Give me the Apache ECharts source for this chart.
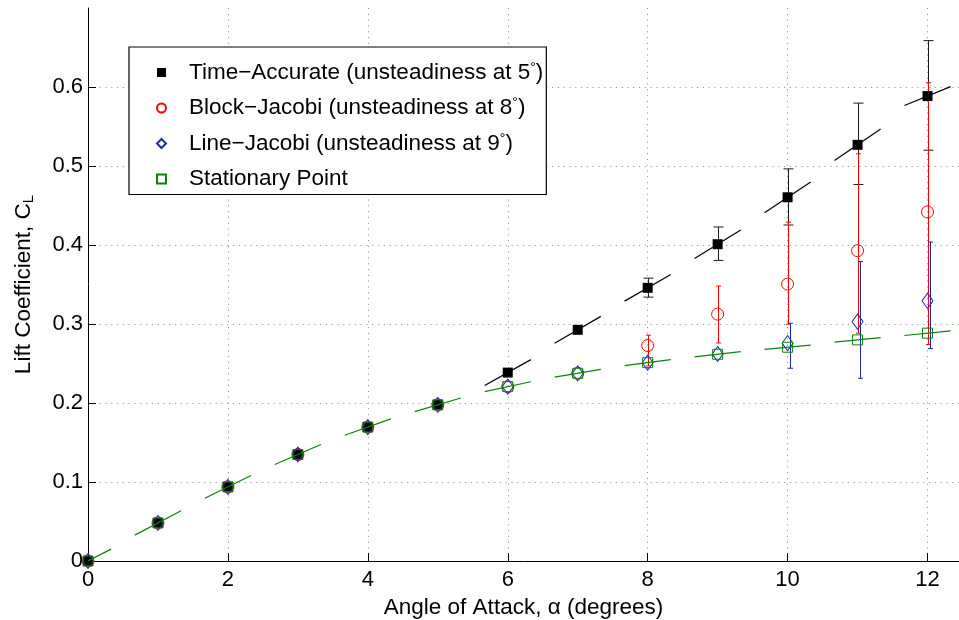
<!DOCTYPE html>
<html>
<head>
<meta charset="utf-8">
<script src="https://cdn.jsdelivr.net/npm/echarts@6/dist/echarts.min.js"></script>
<style>
  html, body { margin: 0; padding: 0; background: #fff; }
  #chart { width: 959px; height: 620px; }
</style>
</head>
<body>
<div id="chart"></div>
<script>
// Angle of attack (degrees)
const alpha = [0, 1, 2, 3, 4, 5, 6, 7, 8, 9, 10, 11, 12];

// Lift coefficient, time-accurate solution (mean) with min/max range
const timeAccurate     = [0, 0.0482, 0.0938, 0.1348, 0.1695, 0.1977, 0.2385, 0.2926, 0.3458, 0.4010, 0.4604, 0.5268, 0.5885];
const timeAccurateLow  = [null, null, null, null, null, null, null, null, 0.3340, 0.3805, 0.4253, 0.4765, 0.5200];
const timeAccurateHigh = [null, null, null, null, null, null, null, null, 0.3580, 0.4228, 0.4964, 0.5796, 0.6587];
// local slope dCL/dalpha of the time-accurate curve
const timeAccurateSlope = [null, null, null, null, null, null, 0.0498, 0.0517, 0.0511, 0.0546, 0.0590, 0.0604, 0.0362];

// Block-Jacobi solver
const blockJacobi     = [0, 0.0482, 0.0938, 0.1348, 0.1695, 0.1977, 0.2207, 0.2376, 0.2727, 0.3125, 0.3505, 0.3928, 0.4418];
const blockJacobiLow  = [null, null, null, null, null, null, null, null, 0.2470, 0.2760, 0.2998, 0.2884, 0.2740];
const blockJacobiHigh = [null, null, null, null, null, null, null, null, 0.2858, 0.3480, 0.4290, 0.5154, 0.6054];

// Line-Jacobi solver
const lineJacobi     = [0, 0.0482, 0.0938, 0.1348, 0.1695, 0.1977, 0.2207, 0.2376, 0.2511, 0.2620, 0.2757, 0.3031, 0.3293];
const lineJacobiLow  = [null, null, null, null, null, null, null, null, null, null, 0.2440, 0.2313, 0.2689];
const lineJacobiHigh = [null, null, null, null, null, null, null, null, null, null, 0.3010, 0.3790, 0.4038];

// Stationary point and its local slope
const stationary      = [0, 0.0482, 0.0938, 0.1348, 0.1695, 0.1977, 0.2207, 0.2376, 0.2511, 0.2617, 0.2706, 0.2799, 0.2884];
const stationarySlope = [0.0456, 0.0469, 0.0434, 0.0383, 0.0315, 0.0263, 0.0188, 0.0149, 0.0116, 0.0104, 0.0083, 0.0083, 0.0089];

const seriesNames = [
  'Time\u2212Accurate (unsteadiness at 5\u00B0)',
  'Block\u2212Jacobi (unsteadiness at 8\u00B0)',
  'Line\u2212Jacobi (unsteadiness at 9\u00B0)',
  'Stationary Point'
];

const FONT = '"Liberation Sans", Arial, Helvetica, sans-serif';
const BLACK = '#000000';
const RED = '#ff0000';
const BLUE = '#1a2aa8';
const GREEN = '#0a820a';
const TANGENT_HALF = 0.33; // half length (deg) of the slope marks

function pts(ys) {
  return alpha.map((a, i) => [a, ys[i]]);
}
function bars(lo, hi) {
  const out = [];
  alpha.forEach((a, i) => { if (lo[i] != null && hi[i] != null) out.push([a, lo[i], hi[i]]); });
  return out;
}
function tangents(ys, slopes) {
  const out = [];
  alpha.forEach((a, i) => { if (slopes[i] != null) out.push([a, ys[i], slopes[i]]); });
  return out;
}

function errorBarRenderer(color, capHalf, dx) {
  return function (params, api) {
    const x = api.value(0);
    const pLo = api.coord([x, api.value(1)]);
    const pHi = api.coord([x, api.value(2)]);
    const cx = Math.round(pLo[0] + dx) + 0.5;
    const st = { stroke: color, lineWidth: 1 };
    return {
      type: 'group',
      children: [
        { type: 'line', shape: { x1: cx, y1: pLo[1], x2: cx, y2: pHi[1] }, style: st },
        { type: 'line', shape: { x1: cx - capHalf, y1: pHi[1], x2: cx + capHalf, y2: pHi[1] }, style: st },
        { type: 'line', shape: { x1: cx - capHalf, y1: pLo[1], x2: cx + capHalf, y2: pLo[1] }, style: st }
      ]
    };
  };
}

function tangentRenderer(color) {
  return function (params, api) {
    const x = api.value(0), y = api.value(1), s = api.value(2);
    const p1 = api.coord([x - TANGENT_HALF, y - s * TANGENT_HALF]);
    const p2 = api.coord([x + TANGENT_HALF, y + s * TANGENT_HALF]);
    return {
      type: 'line',
      shape: { x1: p1[0], y1: p1[1], x2: p2[0], y2: p2[1] },
      style: { stroke: color, lineWidth: 1.2 }
    };
  };
}

const chart = echarts.init(document.getElementById('chart'), null, { renderer: 'canvas' });

const option = {
  backgroundColor: '#ffffff',
  animation: false,
  textStyle: { fontFamily: FONT },
  grid: { left: 88, right: 0, top: 8, bottom: 59, containLabel: false, outerBoundsMode: 'none' },
  xAxis: {
    type: 'value',
    min: 0,
    max: 12.45,
    interval: 2,
    name: 'Angle of Attack, \u03B1 (degrees)',
    nameLocation: 'middle',
    nameGap: 30,
    nameTextStyle: { color: '#000', fontSize: 22.5, fontFamily: FONT },
    axisLine: { show: true, onZero: false, lineStyle: { color: '#000', width: 1 } },
    axisTick: { show: true, inside: true, length: 8, lineStyle: { color: '#000' } },
    axisLabel: {
      color: '#000', fontSize: 22, fontFamily: FONT, margin: 8,
      showMaxLabel: false,
      formatter: v => (v % 2 === 0 ? String(v) : '')
    },
    splitLine: { show: true, showMaxLine: false, lineStyle: { color: '#9a9a9a', type: [1.2, 4.6], width: 1 } }
  },
  yAxis: {
    type: 'value',
    min: 0,
    max: 0.7,
    interval: 0.1,
    name: 'Lift Coefficient, {main|C}{sub|L}',
    nameLocation: 'middle',
    nameGap: 52,
    nameTextStyle: {
      color: '#000', fontSize: 22.5, fontFamily: FONT,
      rich: {
        main: { fontSize: 22.5, fontFamily: FONT, color: '#000' },
        sub: { fontSize: 15, fontFamily: FONT, color: '#000', verticalAlign: 'bottom', padding: [10, 0, 0, 0] }
      }
    },
    axisLine: { show: true, lineStyle: { color: '#000', width: 1 } },
    axisTick: { show: true, inside: true, length: 8, lineStyle: { color: '#000' } },
    axisLabel: {
      color: '#000', fontSize: 22, fontFamily: FONT, margin: 5,
      showMaxLabel: false,
      formatter: v => (Math.abs(v - 0.7) < 1e-9 ? '' : (v === 0 ? '0' : v.toFixed(1)))
    },
    splitLine: { show: true, showMaxLine: false, showMinLine: false, lineStyle: { color: '#9a9a9a', type: [1.2, 4.6], width: 1 } }
  },
  legend: {
    orient: 'vertical',
    left: 129,
    top: 47,
    padding: [14, 3, 4, 27],
    itemGap: 12.5,
    itemWidth: 9,
    itemHeight: 9,
    backgroundColor: '#ffffff',
    borderColor: '#000000',
    borderWidth: 1.2,
    borderRadius: 0,
    data: seriesNames,
    formatter: name => name.replace('\u00B0', '{sup|\u00B0}'),
    textStyle: {
      color: '#000', fontSize: 22.5, fontFamily: FONT, padding: [0, 0, 0, 18], lineHeight: 23,
      rich: {
        sup: { fontSize: 14, fontFamily: FONT, color: '#000', verticalAlign: 'top', lineHeight: 10, padding: [0, 0, 8, 0] }
      }
    }
  },
  series: [
    // error bars
    {
      type: 'custom', name: 'taErr', silent: true, z: 2, clip: true,
      renderItem: errorBarRenderer('#1a1a1a', 5, 0),
      encode: { x: 0, y: [1, 2] },
      data: bars(timeAccurateLow, timeAccurateHigh)
    },
    {
      type: 'custom', name: 'bjErr', silent: true, z: 2, clip: true,
      renderItem: errorBarRenderer(RED, 2.5, 0),
      encode: { x: 0, y: [1, 2] },
      data: bars(blockJacobiLow, blockJacobiHigh)
    },
    {
      type: 'custom', name: 'ljErr', silent: true, z: 2, clip: true,
      renderItem: errorBarRenderer(BLUE, 2.5, 2),
      encode: { x: 0, y: [1, 2] },
      data: bars(lineJacobiLow, lineJacobiHigh)
    },
    // markers
    {
      type: 'scatter', name: seriesNames[0], z: 3,
      symbol: 'rect', symbolSize: 10,
      itemStyle: { color: BLACK, opacity: 1 },
      data: pts(timeAccurate)
    },
    {
      type: 'scatter', name: seriesNames[1], z: 4,
      symbol: 'circle', symbolSize: 12,
      itemStyle: { color: 'rgba(0,0,0,0)', borderColor: RED, borderWidth: 1, opacity: 1 },
      data: pts(blockJacobi)
    },
    {
      type: 'scatter', name: seriesNames[2], z: 5,
      symbol: 'diamond', symbolSize: [11, 15],
      itemStyle: { color: 'rgba(0,0,0,0)', borderColor: BLUE, borderWidth: 1, opacity: 1 },
      data: pts(lineJacobi)
    },
    {
      type: 'scatter', name: seriesNames[3], z: 6,
      symbol: 'rect', symbolSize: 10,
      itemStyle: { color: 'rgba(0,0,0,0)', borderColor: GREEN, borderWidth: 1, opacity: 1 },
      data: pts(stationary)
    },
    // local slope marks
    {
      type: 'custom', name: 'taSlope', silent: true, z: 7, clip: true,
      renderItem: tangentRenderer(BLACK),
      encode: { x: 0, y: 1 },
      data: tangents(timeAccurate, timeAccurateSlope)
    },
    {
      type: 'custom', name: 'spSlope', silent: true, z: 8, clip: true,
      renderItem: tangentRenderer(GREEN),
      encode: { x: 0, y: 1 },
      data: tangents(stationary, stationarySlope)
    }
  ]
};

chart.setOption(option);
</script>
</body>
</html>
